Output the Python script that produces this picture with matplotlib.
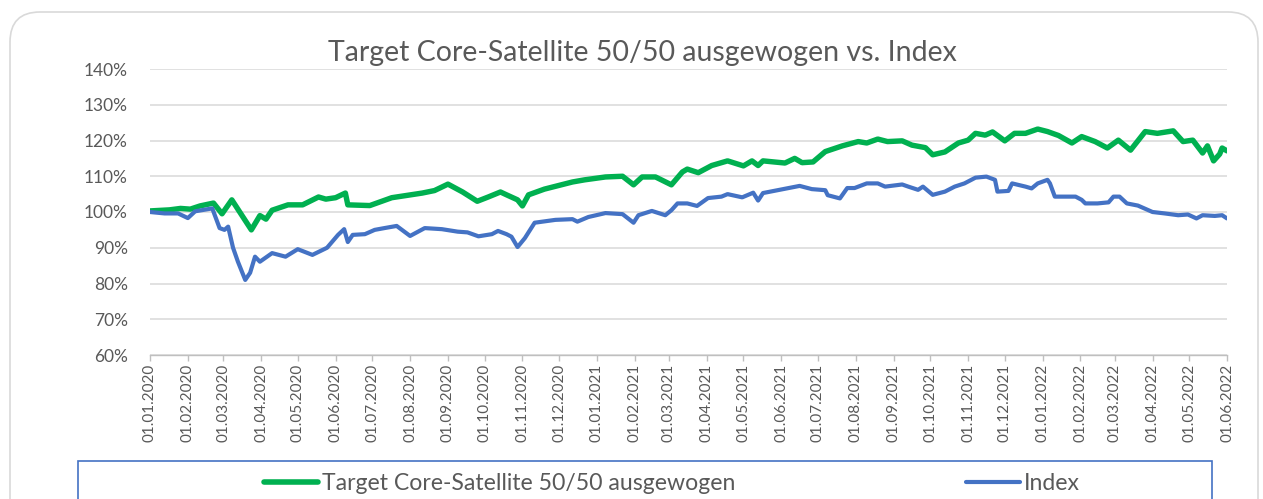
import matplotlib
matplotlib.use("Agg")
import matplotlib.pyplot as plt
from matplotlib.patches import FancyBboxPatch, Rectangle
from matplotlib.lines import Line2D
from matplotlib.transforms import IdentityTransform
import pandas as pd

plt.rcParams['font.family'] = ['Lato', 'DejaVu Sans']

title = "Target Core-Satellite 50/50 ausgewogen vs. Index"
series_names = ["Target Core-Satellite 50/50 ausgewogen", "Index"]

target_dates = [
    "2020-01-01", "2020-01-17", "2020-01-26", "2020-02-03", "2020-02-11", "2020-02-22",
    "2020-02-29", "2020-03-08", "2020-03-16", "2020-03-24", "2020-03-31", "2020-04-05",
    "2020-04-10", "2020-04-23", "2020-05-05", "2020-05-18", "2020-05-24", "2020-06-01",
    "2020-06-09", "2020-06-11", "2020-06-29", "2020-07-17", "2020-08-11", "2020-08-21",
    "2020-09-01", "2020-09-13", "2020-09-25", "2020-10-04", "2020-10-14", "2020-10-19",
    "2020-10-28", "2020-11-01", "2020-11-06", "2020-11-19", "2020-12-12", "2020-12-22",
    "2021-01-08", "2021-01-22", "2021-01-31", "2021-02-07", "2021-02-18", "2021-03-03",
    "2021-03-12", "2021-03-16", "2021-03-25", "2021-04-05", "2021-04-18", "2021-05-01",
    "2021-05-08", "2021-05-13", "2021-05-17", "2021-06-04", "2021-06-12", "2021-06-18",
    "2021-06-27", "2021-07-07", "2021-07-21", "2021-08-03", "2021-08-10", "2021-08-19",
    "2021-08-27", "2021-09-08", "2021-09-16", "2021-09-27", "2021-10-03", "2021-10-13",
    "2021-10-24", "2021-11-01", "2021-11-07", "2021-11-15", "2021-11-21", "2021-12-01",
    "2021-12-09", "2021-12-18", "2021-12-28", "2022-01-05", "2022-01-14", "2022-01-25",
    "2022-02-02", "2022-02-13", "2022-02-23", "2022-03-04", "2022-03-14", "2022-03-26",
    "2022-04-05", "2022-04-18", "2022-04-26", "2022-05-04", "2022-05-12", "2022-05-16",
    "2022-05-21", "2022-05-26", "2022-05-28", "2022-06-01",
]
target_values = [
    100.3, 100.6, 101.0, 100.8, 101.7, 102.5,
    99.5, 103.4, 99.2, 95.0, 99.0, 98.0,
    100.5, 102.0, 102.0, 104.2, 103.6, 104.0,
    105.3, 102.0, 101.8, 104.0, 105.3, 106.0,
    107.8, 105.6, 103.0, 104.2, 105.6, 104.8,
    103.4, 101.7, 104.8, 106.4, 108.4, 109.0,
    109.8, 110.0, 107.6, 109.8, 109.8, 107.6,
    111.2, 112.0, 111.0, 113.0, 114.3, 112.9,
    114.3, 113.0, 114.3, 113.7, 115.0, 113.8,
    114.0, 116.9, 118.5, 119.7, 119.3, 120.4,
    119.7, 119.9, 118.7, 118.0, 116.0, 116.8,
    119.3, 120.1, 122.0, 121.5, 122.4, 119.9,
    122.0, 122.0, 123.2, 122.5, 121.4, 119.3,
    121.1, 119.7, 117.9, 120.1, 117.3, 122.5,
    122.0, 122.7, 119.7, 120.1, 116.5, 118.5,
    114.3, 116.2, 117.9, 117.1,
]

index_dates = [
    "2020-01-01", "2020-01-13", "2020-01-24", "2020-02-01", "2020-02-07", "2020-02-21",
    "2020-02-27", "2020-03-02", "2020-03-05", "2020-03-09", "2020-03-13", "2020-03-19",
    "2020-03-23", "2020-03-27", "2020-03-31", "2020-04-10", "2020-04-21", "2020-05-01",
    "2020-05-13", "2020-05-25", "2020-06-03", "2020-06-08", "2020-06-11", "2020-06-15",
    "2020-06-25", "2020-07-03", "2020-07-11", "2020-07-21", "2020-08-01", "2020-08-13",
    "2020-08-27", "2020-09-09", "2020-09-17", "2020-09-26", "2020-10-07", "2020-10-12",
    "2020-10-19", "2020-10-23", "2020-10-28", "2020-11-03", "2020-11-11", "2020-11-28",
    "2020-12-12", "2020-12-16", "2020-12-25", "2021-01-08", "2021-01-22", "2021-01-31",
    "2021-02-04", "2021-02-15", "2021-02-26", "2021-03-03", "2021-03-08", "2021-03-16",
    "2021-03-24", "2021-04-02", "2021-04-13", "2021-04-18", "2021-04-30", "2021-05-09",
    "2021-05-13", "2021-05-17", "2021-05-29", "2021-06-16", "2021-06-26", "2021-07-07",
    "2021-07-09", "2021-07-19", "2021-07-25", "2021-07-31", "2021-08-10", "2021-08-19",
    "2021-08-25", "2021-09-08", "2021-09-13", "2021-09-21", "2021-09-25", "2021-10-03",
    "2021-10-13", "2021-10-21", "2021-10-29", "2021-11-07", "2021-11-16", "2021-11-23",
    "2021-11-25", "2021-12-04", "2021-12-07", "2021-12-18", "2021-12-23", "2021-12-28",
    "2022-01-05", "2022-01-07", "2022-01-11", "2022-01-19", "2022-01-28", "2022-02-02",
    "2022-02-05", "2022-02-15", "2022-02-24", "2022-02-28", "2022-03-05", "2022-03-11",
    "2022-03-20", "2022-04-01", "2022-04-11", "2022-04-22", "2022-04-30", "2022-05-07",
    "2022-05-12", "2022-05-22", "2022-05-28", "2022-06-01",
]
index_values = [
    100.0, 99.6, 99.6, 98.3, 100.2, 101.0,
    95.5, 95.0, 95.9, 90.0, 86.1, 81.0,
    83.0, 87.5, 86.1, 88.5, 87.5, 89.6,
    88.0, 90.0, 93.6, 95.2, 91.6, 93.6,
    93.8, 95.0, 95.5, 96.1, 93.3, 95.5,
    95.2, 94.5, 94.3, 93.2, 93.8, 94.7,
    93.8, 93.1, 90.2, 92.7, 97.0, 97.8,
    98.0, 97.3, 98.6, 99.7, 99.4, 97.0,
    99.1, 100.3, 99.1, 100.5, 102.4, 102.4,
    101.7, 103.9, 104.3, 105.0, 104.1, 105.4,
    103.2, 105.3, 106.1, 107.3, 106.4, 106.1,
    104.7, 103.8, 106.7, 106.7, 108.0, 108.0,
    107.1, 107.7, 107.1, 106.2, 107.1, 104.8,
    105.7, 107.1, 108.0, 109.6, 109.9, 109.0,
    105.7, 105.9, 108.0, 107.1, 106.6, 108.0,
    109.0, 108.0, 104.3, 104.3, 104.3, 103.4,
    102.4, 102.4, 102.7, 104.3, 104.3, 102.4,
    101.8, 100.0, 99.6, 99.1, 99.3, 98.2,
    99.1, 98.9, 99.1, 98.2,
]

y_ticks = [60, 70, 80, 90, 100, 110, 120, 130, 140]
x_tick_dates = pd.date_range("2020-01-01", "2022-06-01", freq="MS")

W, H = 1263, 499
fig = plt.figure(figsize=(W / 100, H / 100), dpi=100)

# outer rounded frame (pixel coordinates)
frame = FancyBboxPatch((10, -40), 1248, (H - 12) + 40,
                       boxstyle="round,pad=0,rounding_size=30",
                       transform=IdentityTransform(), facecolor="white",
                       edgecolor="#d9d9d9", linewidth=1.2, zorder=-10)
fig.patches.append(frame)

ax = fig.add_axes([150 / W, 1 - 355 / H, (1227 - 150) / W, (355 - 69) / H])
ax.set_facecolor("none")
ax.set_zorder(2)

td = pd.to_datetime(target_dates)
idd = pd.to_datetime(index_dates)
ax.plot(td, target_values, color="#00B050", linewidth=3.9, solid_joinstyle="round",
        solid_capstyle="round", zorder=3, label=series_names[0])
ax.plot(idd, index_values, color="#4472C4", linewidth=3.0, solid_joinstyle="round",
        solid_capstyle="round", zorder=4, label=series_names[1])

ax.set_ylim(60, 140)
ax.set_yticks(y_ticks)
ax.set_yticklabels([f"{v}%" for v in y_ticks])
ax.set_xlim(pd.Timestamp("2020-01-01"), pd.Timestamp("2022-06-01"))
ax.set_xticks(x_tick_dates)
ax.set_xticklabels([d.strftime("%d.%m.%Y") for d in x_tick_dates], rotation=90)

ax.grid(axis="y", color="#d9d9d9", linewidth=1.1)
ax.set_axisbelow(True)
for s in ["top", "right", "left"]:
    ax.spines[s].set_visible(False)
ax.spines["bottom"].set_color("#bfbfbf")
ax.spines["bottom"].set_linewidth(1.0)
ax.tick_params(axis="y", length=0, pad=16, labelsize=12.5, labelcolor="#595959")
ax.tick_params(axis="x", length=4, width=1.0, color="#bfbfbf", pad=2,
               labelsize=11, labelcolor="#595959")

fig.text(642 / W, 1 - 53 / H, title, ha="center", va="center",
         fontsize=20.5, color="#595959")

# legend box
leg_box = Rectangle((78 / W, -20 / H), (1212 - 78) / W, (H - 461 + 20) / H,
                    transform=fig.transFigure, facecolor="white",
                    edgecolor="#4472C4", linewidth=1.2, zorder=1)
fig.patches.append(leg_box)

handles = [Line2D([], [], color="#00B050", linewidth=4.0, solid_capstyle="round"),
           Line2D([], [], color="#4472C4", linewidth=3.0, solid_capstyle="round")]
leg = fig.legend(handles, series_names, loc="center", bbox_to_anchor=(672 / W, 1 - 484 / H),
                 ncol=2, frameon=False, fontsize=16.6, handlelength=2.35, handletextpad=0.18,
                 columnspacing=10.0, labelcolor="#595959")
leg.set_zorder(5)

fig.savefig("out.png", dpi=100)
